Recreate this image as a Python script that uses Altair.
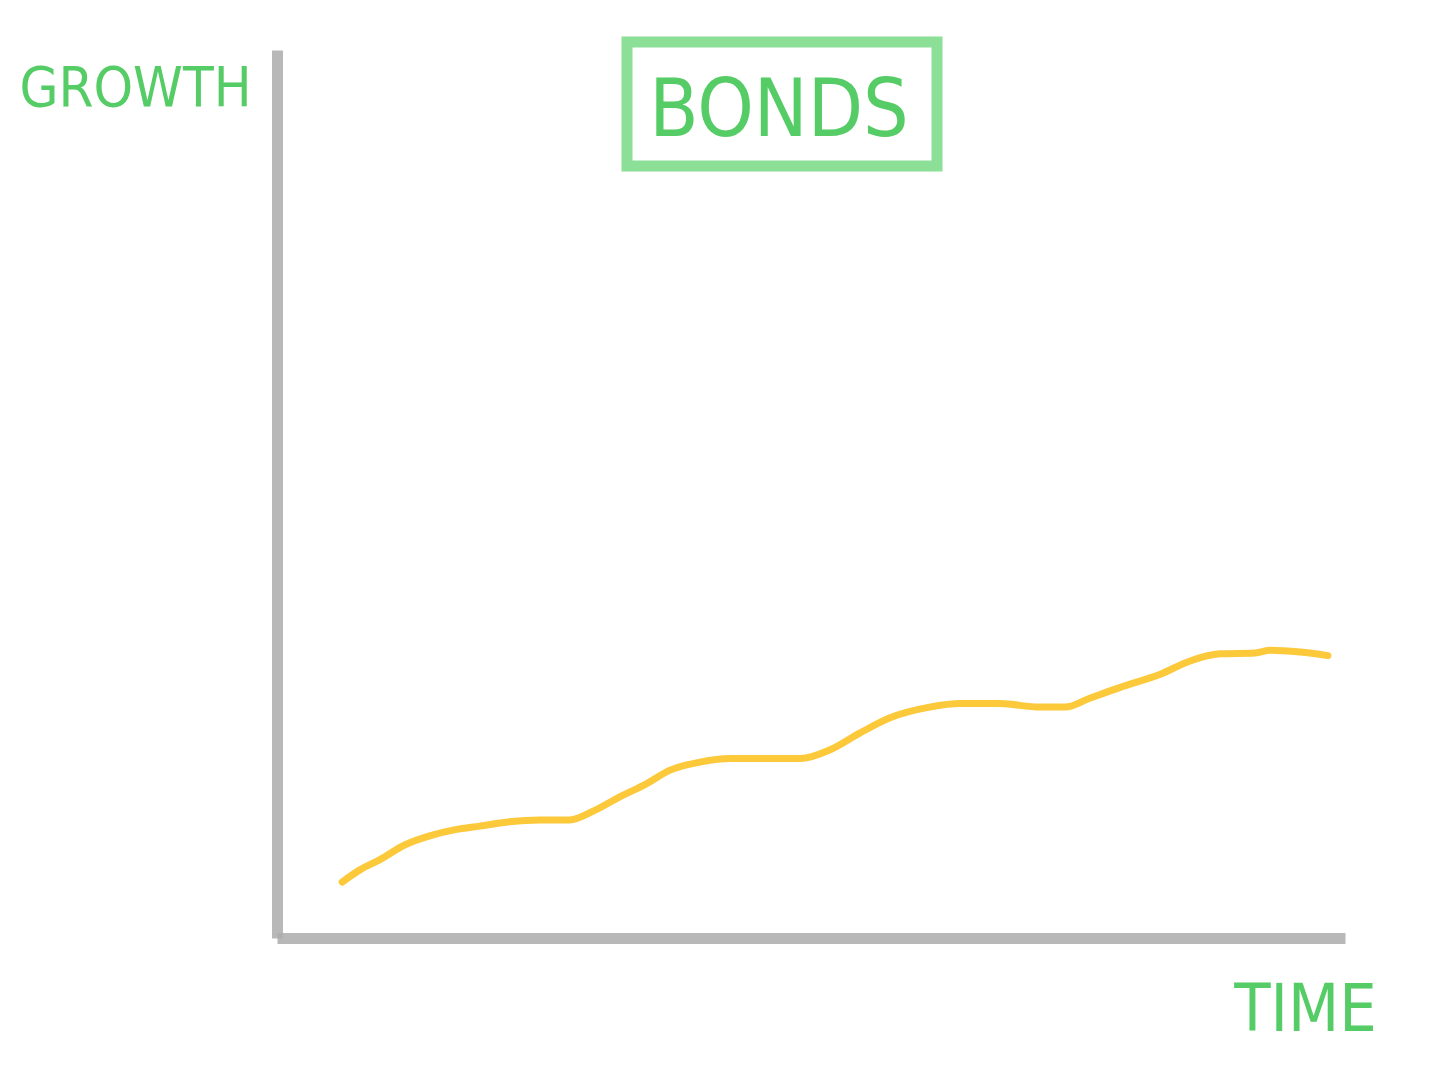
import altair as alt
import pandas as pd

# Hand-drawn growth curve (time and growth on a 0-100 scale)
time_vals = [6.1, 7.8, 9.6, 12.0, 14.3, 16.7, 19.0, 21.8, 24.6, 27.4, 29.8, 32.1,
             34.5, 36.8, 39.6, 42.4, 45.2, 49.0, 51.8, 54.6, 57.4, 61.1, 64.0, 67.7,
             71.4, 73.8, 76.1, 78.9, 82.7, 85.5, 88.3, 91.6, 93.0, 95.8, 98.4]
growth_vals = [6.3, 7.7, 8.8, 10.5, 11.5, 12.2, 12.6, 13.1, 13.3, 13.3, 14.4, 15.9,
               17.3, 18.9, 19.8, 20.2, 20.2, 20.2, 21.2, 23.1, 24.8, 26.0, 26.4, 26.4,
               26.0, 26.0, 27.0, 28.2, 29.7, 31.2, 32.0, 32.1, 32.4, 32.2, 31.8]

title_text = "BONDS"
y_label = "GROWTH"
x_label = "TIME"

df = pd.DataFrame({"time": time_vals, "growth": growth_vals})

GREEN = "#55cc66"
BOX_GREEN = "#7fdc8c"
GRAY = "#ababab"
YELLOW = "#fbc93a"
FONT = "DejaVu Sans Condensed"

line = alt.Chart(df).mark_line(
    color=YELLOW, strokeWidth=7, interpolate="monotone", strokeCap="round"
).encode(
    x=alt.X("time:Q", scale=alt.Scale(domain=[0, 100], nice=False),
            axis=alt.Axis(title=x_label, ticks=False, labels=False, grid=False,
                          domainColor=GRAY, domainWidth=11, domainOpacity=0.85,
                          titleFont=FONT, titleFontSize=66, titleFontWeight="normal",
                          titleColor=GREEN, titleX=1028, titleY=92,
                          titleAlign="center", titleBaseline="alphabetic")),
    y=alt.Y("growth:Q", scale=alt.Scale(domain=[0, 100], nice=False),
            axis=alt.Axis(title=y_label, ticks=False, labels=False, grid=False,
                          domainColor=GRAY, domainWidth=11, domainOpacity=0.85,
                          titleFont=FONT, titleFontSize=56, titleFontWeight="normal",
                          titleColor=GREEN, titleAngle=0, titleX=-142, titleY=55,
                          titleAlign="center", titleBaseline="alphabetic")),
)

box = alt.Chart(alt.Data(values=[{"a": 1}])).mark_rect(
    fill=None, stroke=BOX_GREEN, strokeWidth=11, strokeOpacity=0.9
).encode(
    x=alt.value(350), x2=alt.value(660), y=alt.value(-8), y2=alt.value(116)
)

label = alt.Chart(alt.Data(values=[{"t": title_text}])).mark_text(
    font=FONT, fontSize=80, color=GREEN, align="center", baseline="alphabetic"
).encode(
    text="t:N", x=alt.value(502), y=alt.value(86)
)

chart = alt.layer(box, line, label).properties(
    width=1068, height=888,
    autosize=alt.AutoSizeParams(type="none"),
    padding={"left": 269, "top": 42, "right": 100, "bottom": 110},
    view=alt.ViewBackground(stroke="white", strokeWidth=0, strokeOpacity=0),
).configure_view(stroke="white", strokeWidth=0, strokeOpacity=0).configure(background="white")

chart.save("out.html", embed_options={"renderer": "svg", "actions": False})
